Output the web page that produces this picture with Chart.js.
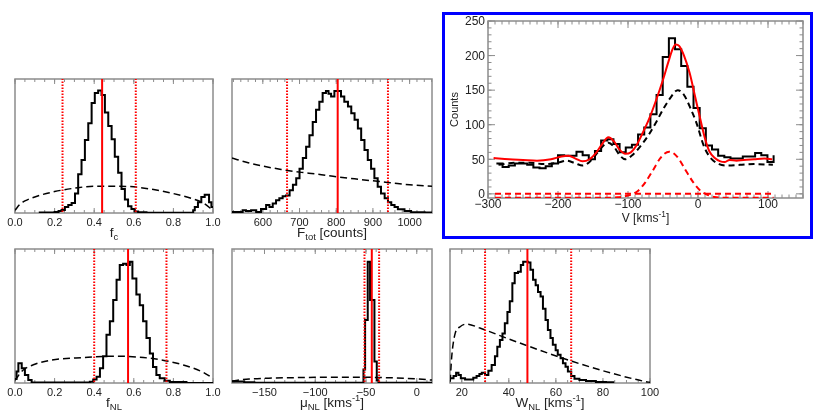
<!DOCTYPE html>
<html>
<head>
<meta charset="utf-8">
<script src="https://cdn.jsdelivr.net/npm/chart.js@4.4.1/dist/chart.umd.min.js"></script>
<style>
  body { margin: 0; background: #fff; width: 831px; height: 415px; position: relative; overflow: hidden; }
  canvas { position: absolute; left: 0; top: 0; }
  #box { position: absolute; left: 442px; top: 12px; width: 365px; height: 221px; border: 3px solid #0000ff; }
</style>
</head>
<body>
<div id="box"></div>
<canvas id="cFc" width="831" height="415"></canvas>
<canvas id="cFt" width="831" height="415"></canvas>
<canvas id="cVel" width="831" height="415"></canvas>
<canvas id="cFn" width="831" height="415"></canvas>
<canvas id="cMu" width="831" height="415"></canvas>
<canvas id="cW" width="831" height="415"></canvas>
<script>
// ---- f_c posterior ----
const fcEdges = [0.12, 0.20, 0.22, 0.235, 0.252, 0.269, 0.286, 0.303, 0.319, 0.336, 0.353, 0.370, 0.387, 0.403, 0.420, 0.437, 0.454, 0.471, 0.488, 0.504, 0.521, 0.538, 0.555, 0.571, 0.588, 0.605, 0.622, 0.664, 0.900, 0.908, 0.924, 0.941, 0.958, 0.980, 0.992, 1.0];
const fcCounts = [0.003, 0.008, 0.015, 0.022, 0.045, 0.06, 0.075, 0.145, 0.29, 0.395, 0.545, 0.67, 0.82, 0.895, 0.915, 0.88, 0.75, 0.65, 0.55, 0.42, 0.30, 0.18, 0.10, 0.05, 0.03, 0.012, 0.005, 0.002, 0.02, 0.045, 0.08, 0.12, 0.137, 0.08, 0.045, 0.045];
const fcPriorX = [0.0, 0.025, 0.05, 0.1, 0.2, 0.3, 0.4, 0.5, 0.6, 0.7, 0.8, 0.9, 0.95, 1.0];
const fcPriorY = [0.02, 0.065, 0.09, 0.12, 0.16, 0.185, 0.2, 0.2, 0.195, 0.175, 0.145, 0.105, 0.075, 0.02];
const fcLimits = [0.24, 0.44, 0.61];
const fcTicks = [0, 0.2, 0.4, 0.6, 0.8, 1.0];

// ---- F_tot posterior ----
const ftEdges = [516, 545, 554, 568, 582, 595, 609, 618, 627, 636, 645, 654, 663, 673, 682, 691, 700, 709, 718, 727, 736, 745, 754, 763, 772, 779, 786, 795, 804, 813, 822, 832, 841, 850, 859, 868, 877, 886, 895, 904, 913, 922, 932, 941, 950, 959, 968, 986, 1004, 1041, 1061];
const ftCounts = [0.008, 0.02, 0.015, 0.02, 0.008, 0.03, 0.06, 0.045, 0.07, 0.095, 0.11, 0.125, 0.13, 0.17, 0.21, 0.26, 0.33, 0.41, 0.495, 0.58, 0.68, 0.77, 0.83, 0.895, 0.91, 0.89, 0.87, 0.91, 0.91, 0.87, 0.83, 0.795, 0.745, 0.695, 0.63, 0.545, 0.47, 0.395, 0.33, 0.26, 0.195, 0.145, 0.11, 0.08, 0.06, 0.045, 0.028, 0.015, 0.005, 0.003, 0.003];
const ftPriorX = [516, 560, 600, 650, 700, 750, 800, 850, 900, 950, 1000, 1061];
const ftPriorY = [0.41, 0.375, 0.35, 0.325, 0.305, 0.29, 0.27, 0.255, 0.24, 0.225, 0.21, 0.2];
const ftLimits = [666, 804, 941];
const ftTicks = [600, 700, 800, 900, 1000];

// ---- velocity spectrum (inset) ----
const velEdges = [-288, -279.2, -270.4, -261.6, -252.8, -244, -235.2, -226.4, -217.6, -208.8, -200, -191.2, -182.4, -173.6, -164.8, -156, -147.2, -138.4, -129.6, -120.8, -112, -103.2, -94.4, -85.6, -76.8, -68, -59.2, -50.4, -41.6, -32.8, -24, -15.2, -6.4, 2.4, 11.2, 20, 28.8, 37.6, 46.4, 55.2, 64, 72.8, 81.6, 90.4, 99.2, 108];
const velCounts = [44, 39, 41, 44, 44, 42, 38, 37, 40, 44, 56, 55, 55, 61, 56, 50, 62, 77, 79, 72, 60, 67, 71, 86, 96, 115, 143, 198, 225, 209, 185, 155, 124, 95, 70, 64, 55, 53, 51, 51, 54, 54, 59, 56, 46, 56];
const fitX = [-292, -270, -250, -230, -210, -195, -185, -175, -165, -155, -145, -137, -128, -120, -112, -104, -96, -88, -80, -70, -60, -50, -42, -36, -32, -27, -20, -12, -4, 4, 10, 16, 24, 32, 38, 45, 55, 65, 80, 95, 106];
const fitY = [52, 50, 49, 48, 50, 54, 55, 51, 47, 50, 60, 72, 82, 76, 64, 58, 60, 70, 86, 108, 135, 165, 192, 210, 216, 214, 200, 175, 140, 105, 80, 62, 52, 47, 46, 49, 48, 49, 50, 51, 50];
const compX = [-285, -260, -240, -220, -200, -188, -175, -165, -155, -145, -135, -128, -120, -112, -104, -95, -83, -70, -59, -50, -40, -29, -20, -10, -2, 8, 15, 22, 30, 40, 60, 80, 107];
const compY = [42, 45, 45, 43, 45, 48, 44, 41, 46, 58, 70, 74, 68, 56, 50, 55, 68, 86, 105, 122, 138, 150, 143, 122, 102, 70, 56, 48, 43, 41, 42, 43, 42];
const gaussX = [-290, -130, -115, -105, -95, -85, -75, -65, -55, -48, -41, -34, -27, -17, -7, 3, 13, 23, 35, 108];
const gaussY = [-5.5, -5.5, -5, -3.5, -1, 5, 17, 33, 50, 58, 61, 58, 50, 33, 17, 5, -1, -4.5, -5.5, -5.5];
const zeroX = [-290, 108];
const zeroY = [0, 0];
const velTicks = [-300, -200, -100, 0, 100];
const countTicks = [0, 50, 100, 150, 200, 250];

// ---- f_NL posterior ----
const fnEdges = [0.0, 0.008, 0.017, 0.034, 0.05, 0.067, 0.084, 0.378, 0.395, 0.412, 0.429, 0.445, 0.462, 0.479, 0.496, 0.513, 0.529, 0.546, 0.563, 0.58, 0.593, 0.613, 0.63, 0.647, 0.664, 0.681, 0.697, 0.714, 0.731, 0.756, 0.782, 0.866, 1.0];
const fnCounts = [0.03, 0.085, 0.147, 0.11, 0.06, 0.022, 0.003, 0.01, 0.027, 0.047, 0.11, 0.2, 0.36, 0.46, 0.62, 0.77, 0.88, 0.89, 0.88, 0.905, 0.78, 0.66, 0.58, 0.46, 0.335, 0.22, 0.12, 0.06, 0.035, 0.017, 0.007, 0.0, 0.0];
const fnPriorX = [0.0, 0.04, 0.1, 0.18, 0.35, 0.5, 0.68, 0.85, 0.95, 1.0];
const fnPriorY = [0.02, 0.095, 0.14, 0.17, 0.19, 0.2, 0.185, 0.135, 0.08, 0.035];
const fnLimits = [0.40, 0.571, 0.765];

// ---- mu_NL posterior ----
const muEdges = [-182, -170, -160, -52.5, -50.9, -48.3, -46, -41.7, -39.4, -37.8, 15];
const muCounts = [0.012, 0.006, 0.002, 0.1, 0.47, 0.905, 0.62, 0.16, 0.02, 0.002, 0.002];
const muPriorX = [-182, -165, -140, -100, -60, -30, 0, 15];
const muPriorY = [0.015, 0.03, 0.037, 0.042, 0.043, 0.04, 0.03, 0.022];
const muLimits = [-51.5, -44.3, -37.1];
const muTicks = [-150, -100, -50, 0];

// ---- W_NL posterior ----
const wEdges = [15.1, 16.5, 17.6, 18.6, 19.6, 21.4, 24.9, 26.3, 27.5, 28.5, 29.9, 31.3, 32.7, 34.1, 35.1, 36.2, 37.3, 38.3, 39.4, 40.4, 41.5, 42.5, 43.9, 45.1, 46.1, 48.2, 49.2, 50.3, 51.4, 52.4, 53.5, 54.5, 55.6, 56.6, 57.7, 58.7, 59.9, 60.8, 62, 63, 64.1, 65.1, 66.5, 67.9, 70, 72.8, 77, 81.3, 84.8];
const wCounts = [0.035, 0.052, 0.077, 0.06, 0.035, 0.027, 0.04, 0.052, 0.067, 0.077, 0.06, 0.092, 0.134, 0.2, 0.27, 0.32, 0.37, 0.445, 0.53, 0.61, 0.745, 0.82, 0.83, 0.88, 0.905, 0.9, 0.845, 0.77, 0.73, 0.68, 0.645, 0.555, 0.47, 0.395, 0.335, 0.285, 0.245, 0.21, 0.185, 0.147, 0.122, 0.085, 0.052, 0.032, 0.022, 0.015, 0.007, 0.005, 0.005];
const wPriorX = [15.1, 15.5, 16, 17.2, 19.3, 22.1, 27.7, 39, 53.1, 67.2, 81.3, 98.2, 100];
const wPriorY = [0.01, 0.14, 0.245, 0.37, 0.42, 0.44, 0.41, 0.335, 0.245, 0.16, 0.085, 0.01, 0.005];
const wLimits = [29.9, 47.9, 66.5];
const wTicks = [20, 40, 60, 80, 100];

const W = 831, H = 415;
const FONT = "'Liberation Sans', Arial, sans-serif";

const pts = (xs, ys) => xs.map((x, i) => ({ x: x, y: ys[i] }));

const histSet = (edges, counts) => ({
    data: pts(edges, counts), borderColor: '#000', borderWidth: 2,
    stepped: true, pointRadius: 0
});

const curveSet = (xs, ys, color, width, dash) => ({
    data: pts(xs, ys), borderColor: color, borderWidth: width, borderDash: dash,
    pointRadius: 0, cubicInterpolationMode: 'monotone'
});

const redLines = (lims) => lims.map((v, i) => ({
    data: [{ x: v, y: -10 }, { x: v, y: 10 }], borderColor: '#ff0000', borderWidth: 2,
    borderDash: i === 1 ? [] : [1.5, 1.5], pointRadius: 0
}));

const minorRange = (a, b, step) => {
    const out = [];
    for (let v = Math.ceil(a / step) * step; v <= b + 1e-9; v += step) out.push(v);
    return out;
};

// frame and inward tick marks
const framePlugin = (f) => ({
    id: 'frame',
    beforeDatasetsDraw(chart) {
        const ctx = chart.ctx, a = chart.chartArea;
        const xs = chart.scales.x, ys = chart.scales.y;
        ctx.save();
        ctx.strokeStyle = '#8c8c8c';
        ctx.lineWidth = 1.5;
        ctx.strokeRect(a.left, a.top, a.right - a.left, a.bottom - a.top);
        ctx.lineWidth = 1;
        ctx.beginPath();
        const xt = (vals, len) => vals.forEach(v => {
            const p = xs.getPixelForValue(v);
            if (p < a.left - 0.5 || p > a.right + 0.5) return;
            ctx.moveTo(p, a.bottom); ctx.lineTo(p, a.bottom - len);
            ctx.moveTo(p, a.top); ctx.lineTo(p, a.top + len);
        });
        const yt = (vals, len) => vals.forEach(v => {
            const p = ys.getPixelForValue(v);
            if (p < a.top - 0.5 || p > a.bottom + 0.5) return;
            ctx.moveTo(a.left, p); ctx.lineTo(a.left + len, p);
            ctx.moveTo(a.right, p); ctx.lineTo(a.right - len, p);
        });
        xt(f.xMajor, f.maj);
        xt(minorRange(xs.min, xs.max, f.xStep), f.min);
        if (f.yMajor) {
            yt(f.yMajor, f.maj);
            yt(minorRange(ys.min, ys.max, f.yStep), f.min);
        }
        ctx.stroke();
        ctx.restore();
    }
});

// axis title with sub/superscripts
const titlePlugin = (parts, size, offset) => ({
    id: 'xtitle',
    afterDraw(chart) {
        const ctx = chart.ctx, a = chart.chartArea;
        ctx.save();
        let total = 0;
        const items = parts.map(p => {
            const s = (p.sub || p.sup) ? size * 0.7 : size;
            ctx.font = s + 'px ' + FONT;
            const w = ctx.measureText(p.t).width;
            total += w;
            return { t: p.t, s: s, w: w, dy: p.sub ? size * 0.22 : (p.sup ? -size * 0.42 : 0) };
        });
        let x = (a.left + a.right) / 2 - total / 2;
        const y = a.bottom + offset;
        ctx.fillStyle = '#222';
        ctx.textAlign = 'left';
        ctx.textBaseline = 'alphabetic';
        items.forEach(it => {
            ctx.font = it.s + 'px ' + FONT;
            ctx.fillText(it.t, x, y + it.dy);
            x += it.w;
        });
        ctx.restore();
    }
});

const minus = (v) => String(v).replace('-', '\u2212');

function panel(id, area, xMin, xMax, xTicks, xStep, fmt, datasets, title, inset) {
    const yScale = inset ? {
        type: 'linear', min: -6, max: 250,
        grid: { display: false, drawTicks: false }, border: { display: false },
        afterFit: (s) => { s.width = 40; },
        afterBuildTicks: (s) => { s.ticks = countTicks.map(v => ({ value: v })); },
        ticks: { padding: 3, labelOffset: 1, color: '#222', font: { family: FONT, size: 12 } },
        title: { display: true, text: 'Counts', color: '#222', padding: 0, font: { family: FONT, size: 11 } }
    } : { type: 'linear', min: 0, max: 1, display: false };

    new Chart(document.getElementById(id), {
        type: 'line',
        data: { datasets: datasets },
        options: {
            responsive: false,
            animation: false,
            events: [],
            layout: {
                padding: {
                    left: inset ? area.l - 40 : area.l,
                    right: W - area.r,
                    top: area.t,
                    bottom: H - area.b - 20
                }
            },
            plugins: { legend: { display: false }, tooltip: { enabled: false } },
            scales: {
                x: {
                    type: 'linear', min: xMin, max: xMax,
                    grid: { display: false, drawTicks: false }, border: { display: false },
                    afterFit: (s) => { s.height = 20; },
                    afterBuildTicks: (s) => { s.ticks = xTicks.map(v => ({ value: v })); },
                    ticks: {
                        autoSkip: false, maxRotation: 0, padding: inset ? -1 : 3, color: '#222',
                        font: { family: FONT, size: inset ? 12 : 11 },
                        callback: fmt
                    }
                },
                y: yScale
            }
        },
        plugins: [
            framePlugin(inset
                ? { xMajor: xTicks, xStep: xStep, yMajor: countTicks, yStep: 10, maj: 7, min: 3.5 }
                : { xMajor: xTicks, xStep: xStep, maj: 5, min: 3 }),
            titlePlugin(title, inset ? 12 : 13.5, 24)
        ]
    });
}

const dec1 = (v) => Number(v).toFixed(1);
const priorDash = [7, 4];

panel('cFc', { l: 15, r: 213, t: 79, b: 213 }, 0, 1, fcTicks, 0.05, dec1,
    redLines(fcLimits).concat([histSet(fcEdges, fcCounts), curveSet(fcPriorX, fcPriorY, '#000', 1.5, priorDash)]),
    [{ t: 'f' }, { t: 'c', sub: true }], false);

panel('cFt', { l: 232, r: 432, t: 79, b: 213 }, 516, 1061, ftTicks, 20, minus,
    redLines(ftLimits).concat([histSet(ftEdges, ftCounts), curveSet(ftPriorX, ftPriorY, '#000', 1.5, priorDash)]),
    [{ t: 'F' }, { t: 'tot', sub: true }, { t: ' [counts]' }], false);

panel('cVel', { l: 488, r: 803, t: 21, b: 198 }, -300, 150, velTicks, 10, minus,
    [
        curveSet(fitX, fitY, '#ff0000', 2, []),
        histSet(velEdges, velCounts),
        curveSet(compX, compY, '#000', 2, [6, 4]),
        curveSet(gaussX, gaussY, '#ff0000', 2, [6, 4]),
        curveSet(zeroX, zeroY, '#ff0000', 2, [6, 4])
    ],
    [{ t: 'V [kms' }, { t: '-1', sup: true }, { t: ']' }], true);

panel('cFn', { l: 15, r: 213, t: 249, b: 383 }, 0, 1, fcTicks, 0.05, dec1,
    redLines(fnLimits).concat([histSet(fnEdges, fnCounts), curveSet(fnPriorX, fnPriorY, '#000', 1.5, priorDash)]),
    [{ t: 'f' }, { t: 'NL', sub: true }], false);

panel('cMu', { l: 232, r: 432, t: 249, b: 383 }, -182, 15, muTicks, 10, minus,
    redLines(muLimits).concat([histSet(muEdges, muCounts), curveSet(muPriorX, muPriorY, '#000', 1.5, priorDash)]),
    [{ t: '\u03bc' }, { t: 'NL', sub: true }, { t: ' [kms' }, { t: '-1', sup: true }, { t: ']' }], false);

panel('cW', { l: 450, r: 650, t: 249, b: 383 }, 15, 100, wTicks, 5, minus,
    redLines(wLimits).concat([histSet(wEdges, wCounts), curveSet(wPriorX, wPriorY, '#000', 1.5, priorDash)]),
    [{ t: 'W' }, { t: 'NL', sub: true }, { t: ' [kms' }, { t: '-1', sup: true }, { t: ']' }], false);
</script>
</body>
</html>
